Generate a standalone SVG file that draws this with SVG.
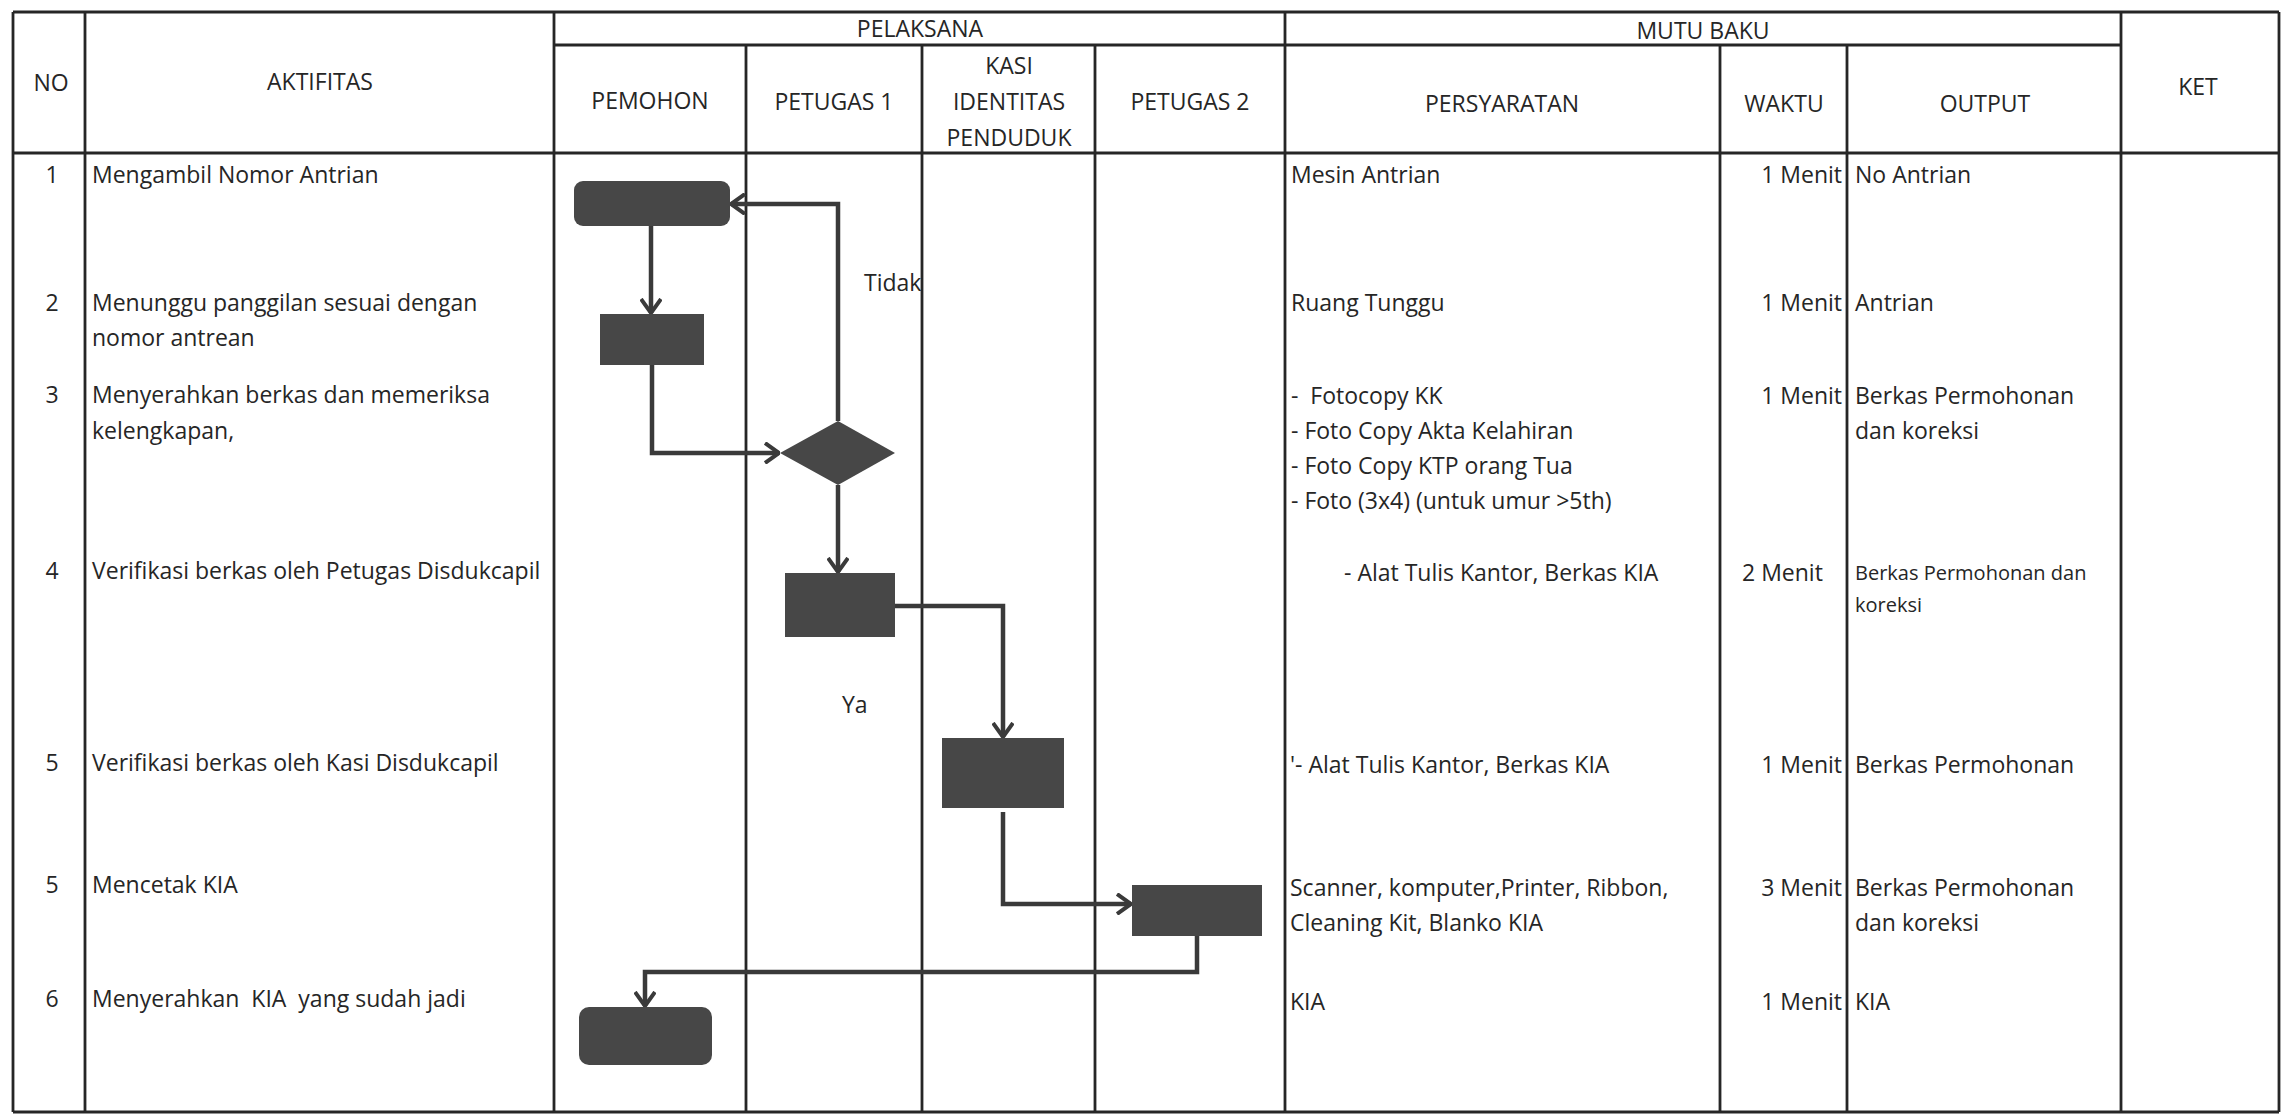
<svg xmlns="http://www.w3.org/2000/svg" width="2284" height="1116" viewBox="0 0 2284 1116">
<style>
.t{font-family:"Open Sans","Liberation Sans",sans-serif;font-size:23px;fill:#262626}
.s{font-size:20px}
.c{text-anchor:middle}
.e{text-anchor:end}
.grid line{stroke:#262626;stroke-width:2.8}
.node{fill:#474747}
.conn path{fill:none;stroke:#3a3a3a;stroke-width:4.5}
</style>
<defs>
<marker id="arr" viewBox="0 0 16 22" refX="15" refY="11" markerWidth="16" markerHeight="22" orient="auto" markerUnits="userSpaceOnUse">
<path d="M1,1 L15,11 L1,21" fill="none" stroke="#3a3a3a" stroke-width="4"/>
</marker>
</defs>
<rect width="2284" height="1116" fill="#ffffff"/>
<g id="table" class="grid">
<line x1="13" y1="12" x2="2279" y2="12"/>
<line x1="13" y1="1112" x2="2279" y2="1112"/>
<line x1="13" y1="12" x2="13" y2="1112"/>
<line x1="2279" y1="12" x2="2279" y2="1112"/>
<line x1="554" y1="45" x2="2121" y2="45"/>
<line x1="13" y1="153" x2="2279" y2="153" style="stroke-width:3.2"/>
<line x1="85" y1="12" x2="85" y2="1112"/>
<line x1="554" y1="12" x2="554" y2="1112"/>
<line x1="746" y1="45" x2="746" y2="1112"/>
<line x1="922" y1="45" x2="922" y2="1112"/>
<line x1="1095" y1="45" x2="1095" y2="1112"/>
<line x1="1285" y1="12" x2="1285" y2="1112"/>
<line x1="1720" y1="45" x2="1720" y2="1112"/>
<line x1="1847" y1="45" x2="1847" y2="1112"/>
<line x1="2121" y1="12" x2="2121" y2="1112"/>
</g>
<g id="headers" class="t">
<text x="51" y="91" class="c">NO</text>
<text x="320" y="90" class="c">AKTIFITAS</text>
<text x="920" y="37" class="c">PELAKSANA</text>
<text x="1703" y="39" class="c">MUTU BAKU</text>
<text x="650" y="109" class="c">PEMOHON</text>
<text x="834" y="110" class="c">PETUGAS 1</text>
<text x="1009" y="74" class="c">KASI</text>
<text x="1009" y="110" class="c">IDENTITAS</text>
<text x="1009" y="146" class="c">PENDUDUK</text>
<text x="1190" y="110" class="c">PETUGAS 2</text>
<text x="1502" y="112" class="c">PERSYARATAN</text>
<text x="1784" y="112" class="c">WAKTU</text>
<text x="1985" y="112" class="c">OUTPUT</text>
<text x="2198" y="95" class="c">KET</text>
</g>
<g id="rows" class="t">
<text x="52" y="183" class="c">1</text>
<text x="92" y="183">Mengambil Nomor Antrian</text>
<text x="52" y="311" class="c">2</text>
<text x="92" y="311">Menunggu panggilan sesuai dengan</text>
<text x="92" y="346">nomor antrean</text>
<text x="52" y="403" class="c">3</text>
<text x="92" y="403">Menyerahkan berkas dan memeriksa</text>
<text x="92" y="439">kelengkapan,</text>
<text x="52" y="579" class="c">4</text>
<text x="92" y="579">Verifikasi berkas oleh Petugas Disdukcapil</text>
<text x="52" y="771" class="c">5</text>
<text x="92" y="771">Verifikasi berkas oleh Kasi Disdukcapil</text>
<text x="52" y="893" class="c">5</text>
<text x="92" y="893">Mencetak KIA</text>
<text x="52" y="1007" class="c">6</text>
<text x="92" y="1007" xml:space="preserve">Menyerahkan  KIA  yang sudah jadi</text>

<text x="1291" y="183">Mesin Antrian</text>
<text x="1291" y="311">Ruang Tunggu</text>
<text x="1291" y="404" xml:space="preserve">-  Fotocopy KK</text>
<text x="1291" y="439">- Foto Copy Akta Kelahiran</text>
<text x="1291" y="474">- Foto Copy KTP orang Tua</text>
<text x="1291" y="509">- Foto (3x4) (untuk umur &gt;5th)</text>
<text x="1344" y="581">- Alat Tulis Kantor, Berkas KIA</text>
<text x="1290" y="773">'- Alat Tulis Kantor, Berkas KIA</text>
<text x="1290" y="896">Scanner, komputer,Printer, Ribbon,</text>
<text x="1290" y="931">Cleaning Kit, Blanko KIA</text>
<text x="1290" y="1010">KIA</text>

<text x="1842" y="183" class="e">1 Menit</text>
<text x="1842" y="311" class="e">1 Menit</text>
<text x="1842" y="404" class="e">1 Menit</text>
<text x="1742" y="581">2 Menit</text>
<text x="1842" y="773" class="e">1 Menit</text>
<text x="1842" y="896" class="e">3 Menit</text>
<text x="1842" y="1010" class="e">1 Menit</text>

<text x="1855" y="183">No Antrian</text>
<text x="1855" y="311">Antrian</text>
<text x="1855" y="404">Berkas Permohonan</text>
<text x="1855" y="439">dan koreksi</text>
<text x="1855" y="580" class="s">Berkas Permohonan dan</text>
<text x="1855" y="612" class="s">koreksi</text>
<text x="1855" y="773">Berkas Permohonan</text>
<text x="1855" y="896">Berkas Permohonan</text>
<text x="1855" y="931">dan koreksi</text>
<text x="1855" y="1010">KIA</text>
</g>
<g id="connectors" class="conn">
<path d="M651,226 V313" marker-end="url(#arr)"/>
<path d="M652,365 V453 H779" marker-end="url(#arr)"/>
<path d="M838,421 V204 H731" marker-end="url(#arr)"/>
<path d="M838,485 V572" marker-end="url(#arr)"/>
<path d="M895,606 H1003 V737" marker-end="url(#arr)"/>
<path d="M1003,812 V904 H1131" marker-end="url(#arr)"/>
<path d="M1197,936 V972 H645 V1006" marker-end="url(#arr)"/>
</g>
<g id="labels" class="t">
<text x="864" y="291">Tidak</text>
<text x="842" y="713">Ya</text>
</g>
<g id="n1"><rect class="node" x="574" y="181" width="156" height="45" rx="9"/></g>
<g id="n2"><rect class="node" x="600" y="314" width="104" height="51"/></g>
<g id="n3"><polygon class="node" points="780,453 838,421 895,453 838,485"/></g>
<g id="n4"><rect class="node" x="785" y="573" width="110" height="64"/></g>
<g id="n5"><rect class="node" x="942" y="738" width="122" height="70"/></g>
<g id="n6"><rect class="node" x="1132" y="885" width="130" height="51"/></g>
<g id="n7"><rect class="node" x="579" y="1007" width="133" height="58" rx="10"/></g>
</svg>
